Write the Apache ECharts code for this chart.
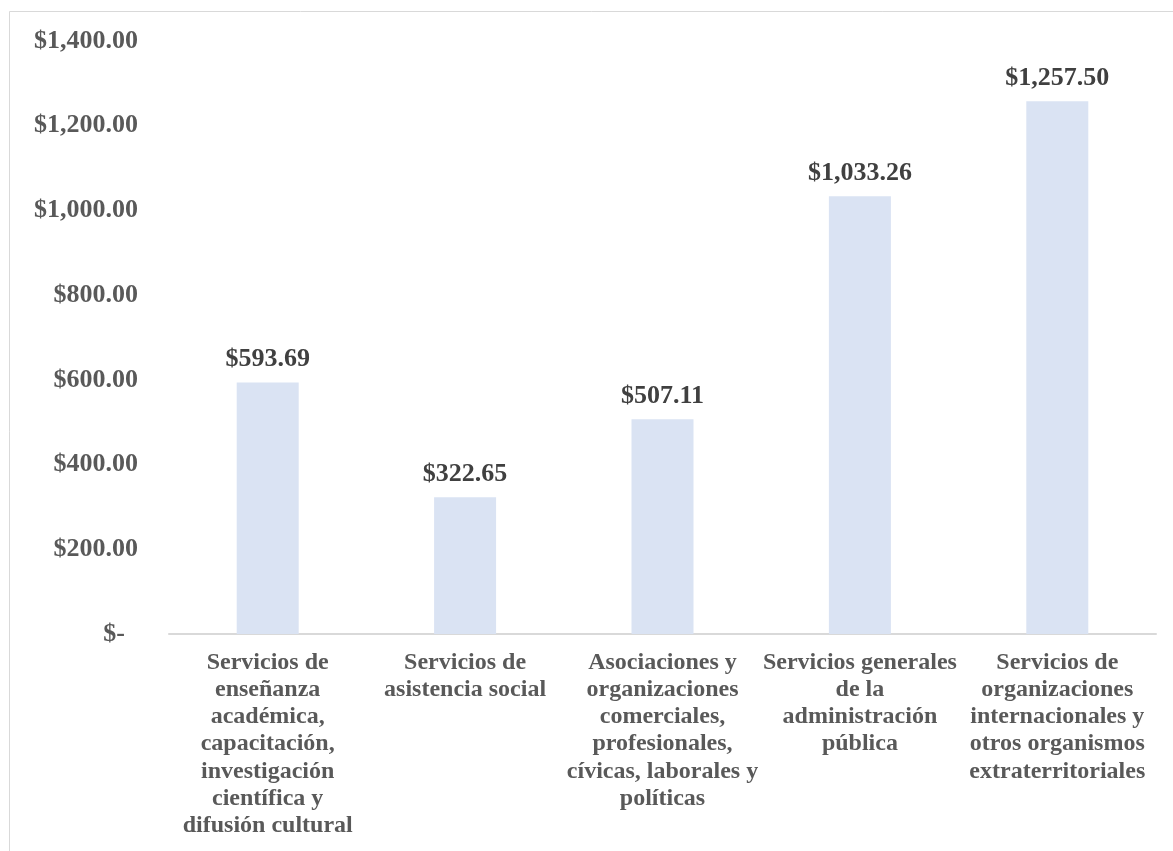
<!DOCTYPE html>
<html>
<head>
<meta charset="utf-8">
<script src="https://cdn.jsdelivr.net/npm/echarts@6/dist/echarts.min.js"></script>
<style>
html,body{margin:0;padding:0;background:#fff;}
#chart{width:1173px;height:851px;}
</style>
</head>
<body>
<div id="chart"></div>
<script>
const categories = [
  'Servicios de\nenseñanza\nacadémica,\ncapacitación,\ninvestigación\ncientífica y\ndifusión cultural',
  'Servicios de\nasistencia social',
  'Asociaciones y\norganizaciones\ncomerciales,\nprofesionales,\ncívicas, laborales y\npolíticas',
  'Servicios generales\nde la\nadministración\npública',
  'Servicios de\norganizaciones\ninternacionales y\notros organismos\nextraterritoriales'
];
const values = [593.69, 322.65, 507.11, 1033.26, 1257.50];
const yTicks = { min: 0, max: 1400, interval: 200 };

function money(v) {
  if (v === 0) return '$-  ';
  return '$' + v.toLocaleString('en-US', { minimumFractionDigits: 2, maximumFractionDigits: 2 });
}

const FONT = '"Liberation Serif", "Times New Roman", serif';
const chart = echarts.init(document.getElementById('chart'));
chart.setOption({
  backgroundColor: '#fff',
  animation: false,
  textStyle: { fontFamily: FONT },
  graphic: [{
    type: 'rect',
    shape: { x: 9.5, y: 11.5, width: 1300, height: 1000 },
    style: { fill: 'none', stroke: '#D9D9D9', lineWidth: 1 },
    silent: true, z: -10
  }],
  grid: { left: 169, right: 17, top: 41, bottom: 217 },
  xAxis: {
    type: 'category',
    data: categories,
    axisLine: { lineStyle: { color: '#D9D9D9', width: 2 } },
    axisTick: { show: false },
    axisLabel: {
      interval: 0,
      color: '#595959',
      fontSize: 24,
      fontWeight: 'bold',
      lineHeight: 27.2,
      margin: 15,
      align: 'center',
      fontFamily: FONT
    }
  },
  yAxis: {
    type: 'value',
    min: yTicks.min,
    max: yTicks.max,
    interval: yTicks.interval,
    splitLine: { show: false },
    axisLine: { show: false },
    axisTick: { show: false },
    axisLabel: {
      color: '#595959',
      fontSize: 26,
      fontWeight: 'bold',
      margin: 31,
      padding: [4, 0, 0, 0],
      formatter: money,
      fontFamily: FONT
    }
  },
  series: [{
    type: 'bar',
    data: values,
    barWidth: 62,
    itemStyle: { color: '#DAE3F3' },
    label: {
      show: true,
      position: 'top',
      distance: 10,
      color: '#404040',
      fontSize: 26,
      fontWeight: 'bold',
      formatter: p => money(p.value),
      fontFamily: FONT
    }
  }]
});
</script>
</body>
</html>
